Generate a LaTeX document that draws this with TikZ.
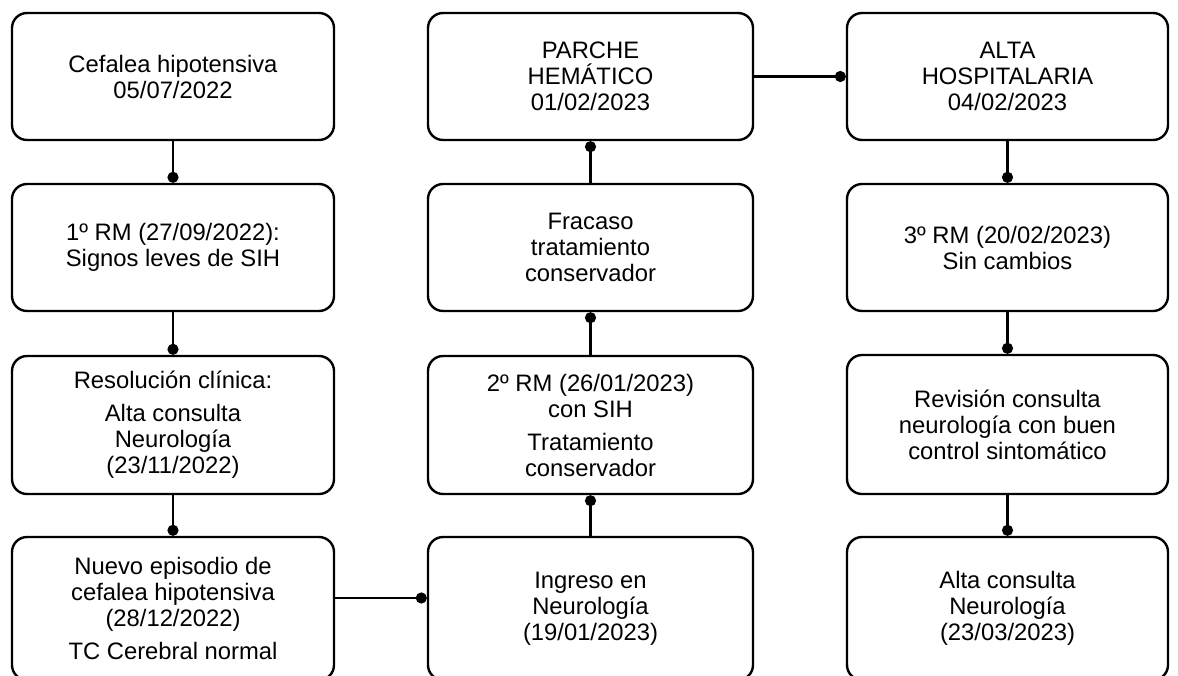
\documentclass[tikz,border=0pt]{standalone}
\usepackage{fontspec}
\setmainfont{Liberation Sans}
\usetikzlibrary{arrows.meta}
\begin{document}
\begin{tikzpicture}[x=1pt,y=-1pt,
  box/.style={draw, line width=2.4pt, rounded corners=15pt, align=center,
    inner sep=0pt, font=\fontsize{23.8}{26}\selectfont},
  conn/.style={line width=2.6pt, -{Circle[length=11pt]}}]
\useasboundingbox (0,0) rectangle (1178,675);
\begin{scope}
\clip (0,0) rectangle (1178,675);
% left column
\node[box, minimum width=322pt, minimum height=127pt] (L1) at (173,76.5) {Cefalea hipotensiva\\05/07/2022};
\node[box, minimum width=322pt, minimum height=127pt] (L2) at (173,247.5) {1º RM (27/09/2022):\\Signos leves de SIH};
\node[box, minimum width=322pt, minimum height=138pt] (L3) at (173,425) {Resolución clínica:\\[7pt]Alta consulta\\Neurología\\(23/11/2022)};
\node[box, minimum width=322pt, minimum height=143pt] (L4) at (173,608.5) {Nuevo episodio de\\cefalea hipotensiva\\(28/12/2022)\\[7pt]TC Cerebral normal};
% middle column
\node[box, minimum width=325pt, minimum height=127pt] (M1) at (590.5,76.5) {PARCHE\\HEMÁTICO\\01/02/2023};
\node[box, minimum width=325pt, minimum height=127pt] (M2) at (590.5,247.5) {Fracaso\\tratamiento\\conservador};
\node[box, minimum width=325pt, minimum height=138pt] (M3) at (590.5,425) {2º RM (26/01/2023)\\con SIH\\[7pt]Tratamiento\\conservador};
\node[box, minimum width=325pt, minimum height=143pt] (M4) at (590.5,608.5) {Ingreso en\\Neurología\\(19/01/2023)};
% right column
\node[box, minimum width=321pt, minimum height=127pt] (R1) at (1007.5,76.5) {ALTA\\HOSPITALARIA\\04/02/2023};
\node[box, minimum width=321pt, minimum height=127pt] (R2) at (1007.5,247.5) {3º RM (20/02/2023)\\Sin cambios};
\node[box, minimum width=321pt, minimum height=139pt] (R3) at (1007.5,424.5) {Revisión consulta\\neurología con buen\\control sintomático};
\node[box, minimum width=321pt, minimum height=143pt] (R4) at (1007.5,608.5) {Alta consulta\\Neurología\\(23/03/2023)};
\end{scope}
\coordinate (h4) at (0,598);
% connectors
\draw[conn] (L1.south) -- (L2.north);
\draw[conn] (L2.south) -- (L3.north);
\draw[conn] (L3.south) -- (L4.north);
\draw[conn] (L4.east |- h4) -- (M4.west |- h4);
\draw[conn] (M4.north) -- (M3.south);
\draw[conn] (M3.north) -- (M2.south);
\draw[conn] (M2.north) -- (M1.south);
\draw[conn] (M1.east) -- (R1.west);
\draw[conn] (R1.south) -- (R2.north);
\draw[conn] (R2.south) -- (R3.north);
\draw[conn] (R3.south) -- (R4.north);
\end{tikzpicture}
\end{document}
